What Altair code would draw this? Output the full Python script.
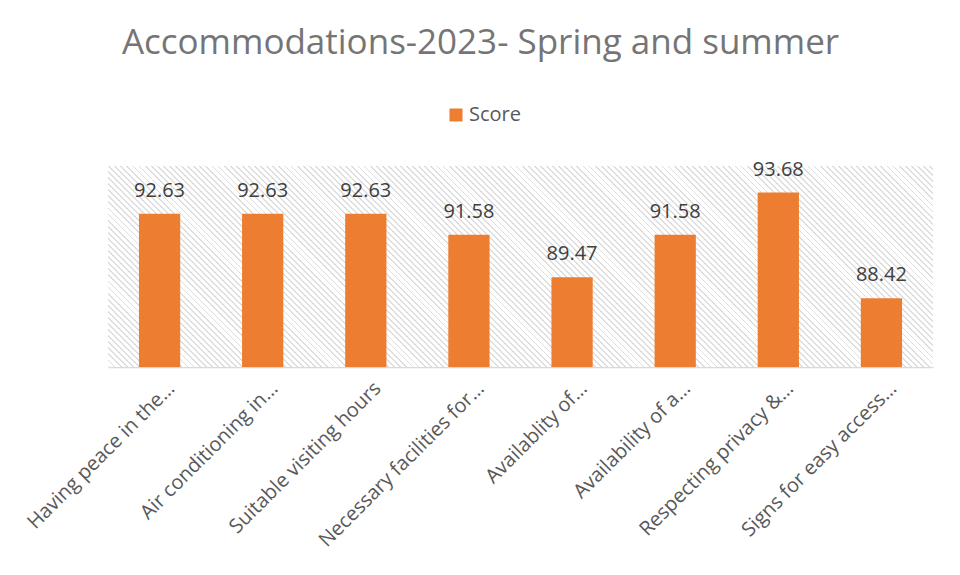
import altair as alt
import pandas as pd
import numpy as np

# ---- data ----
categories = [
    "Having peace in the…",
    "Air conditioning in…",
    "Suitable visiting hours",
    "Necessary facilities for…",
    "Availablity of…",
    "Availability of a…",
    "Respecting privacy &…",
    "Signs for easy access…",
]
scores = [92.63, 92.63, 92.63, 91.58, 89.47, 91.58, 93.68, 88.42]
series_name = "Score"
y_domain = [85, 95]
title_text = "Accommodations-2023- Spring and summer"

df = pd.DataFrame({"category": categories, "score": scores, "series": series_name})

W, H = 825, 201
FONT = "Open Sans"
ORANGE = "#ED7D31"

# ---- hatched plot-area background (downward diagonal lines via a striped gradient) ----
period = 4.3
line_w = 1.3
L = (W + H) / np.sqrt(2)
stops = []
i = 0
while i * period < L:
    a = i * period / L
    b = min((i * period + line_w) / L, 1.0)
    c = min((i + 1) * period / L, 1.0)
    stops += [
        alt.GradientStop(offset=float(a), color="#dedede"),
        alt.GradientStop(offset=float(b), color="#dedede"),
        alt.GradientStop(offset=float(b), color="#ffffff"),
        alt.GradientStop(offset=float(c), color="#ffffff"),
    ]
    i += 1
k = (W + H) / (W ** 2 + H ** 2)
hatch = alt.LinearGradient(
    gradient="linear", stops=stops, x1=0, y1=1, x2=float(W * k), y2=float(1 - H * k)
)

bg = (
    alt.Chart(pd.DataFrame({"bg": [0]}))
    .mark_rect(fill=hatch, strokeWidth=0)
    .encode(opacity=alt.value(1))
)

x_enc = alt.X(
    "category:N",
    sort=categories,
    scale=alt.Scale(paddingInner=0.6, paddingOuter=0.3),
    axis=alt.Axis(
        title=None,
        labelAngle=-45,
        labelAlign="right",
        labelBaseline="middle",
        labelOffset=12,
        labelPadding=18,
        labelFontSize=20,
        labelFont=FONT,
        labelColor="#595959",
        labelLimit=400,
        labelOverlap=False,
        ticks=False,
        domainColor="#d9d9d9",
        domainWidth=1.5,
    ),
)
y_enc = alt.Y(
    "score:Q",
    scale=alt.Scale(domain=y_domain, zero=False, nice=False),
    axis=None,
)

bars = (
    alt.Chart(df)
    .mark_bar()
    .encode(
        x=x_enc,
        y=y_enc,
        y2=alt.datum(y_domain[0]),
        color=alt.Color(
            "series:N",
            scale=alt.Scale(range=[ORANGE]),
            legend=alt.Legend(
                title=None,
                orient="none",
                legendX=338,
                legendY=-61,
                symbolType="square",
                symbolSize=169,
                symbolStrokeWidth=0,
                symbolOpacity=1,
                labelFontSize=20,
                labelFont=FONT,
                labelColor="#595959",
                labelOffset=3,
            ),
        ),
    )
)

labels = (
    alt.Chart(df)
    .mark_text(
        baseline="alphabetic",
        dy=-17,
        fontSize=20,
        font=FONT,
        color="#404040",
    )
    .encode(x=x_enc, y=y_enc, text=alt.Text("score:Q", format=".2f"))
)

chart = (
    alt.layer(bg, bars, labels)
    .properties(
        width=W,
        height=H,
        autosize=alt.AutoSizeParams(type="none"),
        padding={"left": 100, "top": 158, "right": 19, "bottom": 200},
        title=alt.Title(
            title_text,
            fontSize=35,
            font=FONT,
            fontWeight="normal",
            color="#757575",
            anchor="middle",
            baseline="alphabetic",
            dx=-40,
            offset=16,
        ),
        background="white",
    )
    .configure_view(stroke="transparent")
)

chart.save("out.html", embed_options={"renderer": "svg", "actions": False})
